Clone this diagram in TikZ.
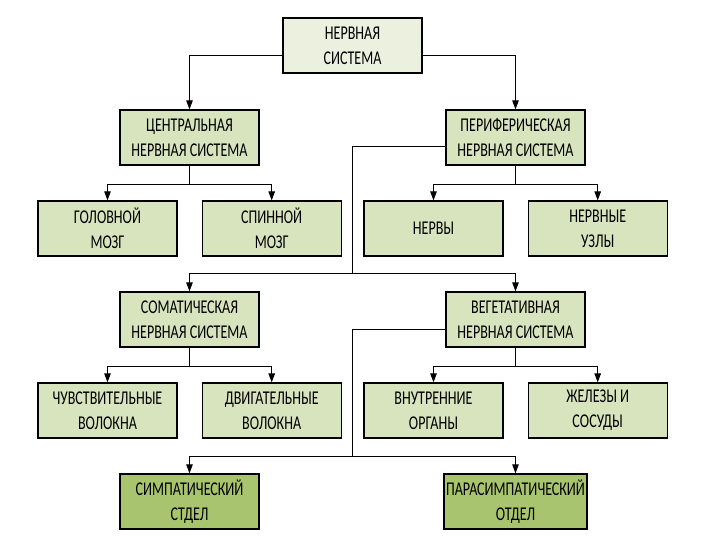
\documentclass[tikz,border=0pt]{standalone}
\usepackage{fontspec}
\setmainfont{Carlito}
\newfontfamily\boxfont[FakeStretch=0.72]{Carlito}
\usetikzlibrary{positioning,arrows.meta,calc}

\definecolor{rootgreen}{HTML}{EBF1DE}
\definecolor{leafgreen}{HTML}{D7E4BD}
\definecolor{deptgreen}{HTML}{A9C46E}

\begin{document}
\begin{tikzpicture}[x=1pt, y=-1pt,
    box/.style={draw, line width=1.2pt, minimum width=139pt, minimum height=55pt,
        align=center, inner sep=2pt, font={\boxfont\fontsize{19.5}{25}\selectfont}},
    rootbox/.style={box, fill=rootgreen},
    part/.style={box, fill=leafgreen},
    dept/.style={box, fill=deptgreen},
    arr/.style={-{Triangle[length=3.2mm, width=2.3mm]}, line width=1pt},
    bus/.style={line width=1pt}]

\useasboundingbox (0,0) rectangle (720,540);

% --- top
\node[rootbox] (ns) at (352.5,45.5) {НЕРВНАЯ\\СИСТЕМА};
\node[part] (cns) at (189.5,137.5) {ЦЕНТРАЛЬНАЯ\\НЕРВНАЯ СИСТЕМА};
\node[part] (pns) at (515.5,137.5) {ПЕРИФЕРИЧЕСКАЯ\\НЕРВНАЯ СИСТЕМА};
\draw[arr] ([yshift=-10pt]ns.west) -| (cns.north);
\draw[arr] ([yshift=-10pt]ns.east) -| (pns.north);

% --- central and peripheral parts
\node[part] (brain) at (107.5,228.5) {ГОЛОВНОЙ\\МОЗГ};
\node[part, right=24pt of brain] (spine) {СПИННОЙ\\МОЗГ};
\node[part] (nerves) at (433.5,228.5) {НЕРВЫ};
\node[part, right=24pt of nerves] (ganglia) {НЕРВНЫЕ\\УЗЛЫ};
\draw[bus] (cns.south) -- ++(0,19) coordinate (cnsfork);
\draw[arr] (cnsfork) -| (brain.north);
\draw[arr] (cnsfork) -| (spine.north);
\draw[bus] (pns.south) -- ++(0,19) coordinate (pnsfork);
\draw[arr] (pnsfork) -| (nerves.north);
\draw[arr] (pnsfork) -| (ganglia.north);

% --- somatic and autonomic
\node[part] (somatic) at (189.5,319.5) {СОМАТИЧЕСКАЯ\\НЕРВНАЯ СИСТЕМА};
\node[part] (auto) at (515.5,319.5) {ВЕГЕТАТИВНАЯ\\НЕРВНАЯ СИСТЕМА};
\coordinate (pnsbus) at (352.5,273.5);
\draw[bus] ([yshift=-9.5pt]pns.west) -| (pnsbus);
\draw[arr] (pnsbus) -| (somatic.north);
\draw[arr] (pnsbus) -| (auto.north);

\node[part] (sensory) at (107.5,410.5) {ЧУВСТВИТЕЛЬНЫЕ\\ВОЛОКНА};
\node[part, right=24pt of sensory] (motor) {ДВИГАТЕЛЬНЫЕ\\ВОЛОКНА};
\node[part] (organs) at (433.5,410.5) {ВНУТРЕННИЕ\\ОРГАНЫ};
\node[part, right=24pt of organs] (glands) {ЖЕЛЕЗЫ И\\СОСУДЫ};
\draw[bus] (somatic.south) -- ++(0,19) coordinate (somfork);
\draw[arr] (somfork) -| (sensory.north);
\draw[arr] (somfork) -| (motor.north);
\draw[bus] (auto.south) -- ++(0,19) coordinate (autofork);
\draw[arr] (autofork) -| (organs.north);
\draw[arr] (autofork) -| (glands.north);

% --- divisions
\node[dept] (symp) at (189.5,501.5) {СИМПАТИЧЕСКИЙ\\СТДЕЛ};
\node[dept] (para) at (515.5,501.5) {ПАРАСИМПАТИЧЕСКИЙ\\ОТДЕЛ};
\coordinate (autobus) at (352.5,456.5);
\draw[bus] ([yshift=-9.5pt]auto.west) -| (autobus);
\draw[arr] (autobus) -| (symp.north);
\draw[arr] (autobus) -| (para.north);
\end{tikzpicture}
\end{document}
